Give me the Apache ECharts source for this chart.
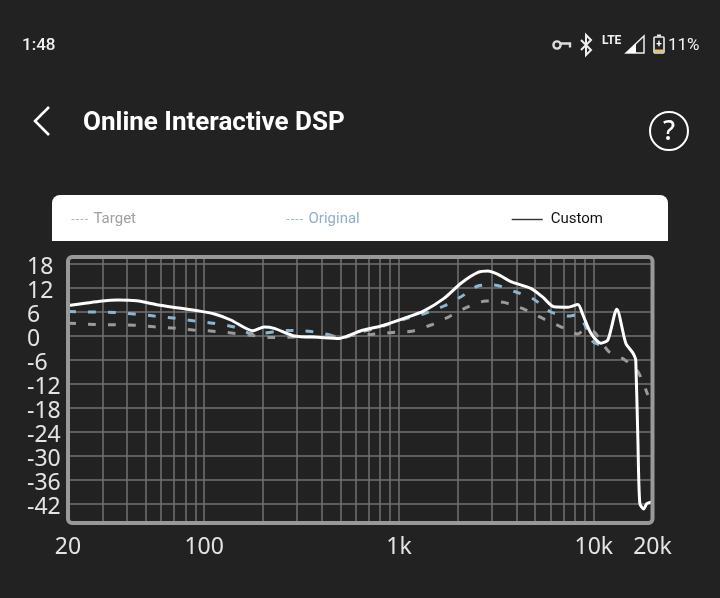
<!DOCTYPE html>
<html><head><meta charset="utf-8">
<style>html,body{margin:0;padding:0;background:#222}#c{width:720px;height:598px}</style>
<script src="https://cdn.jsdelivr.net/npm/echarts@6/dist/echarts.min.js"></script>
</head><body><div id="c"></div>
<script>
const customFreq=[20,30,36,45,58,74,93,113,137,178,203,229,290,384,492,638,809,1060,1343,1702,2080,2541,2860,3220,3750,4750,5470,6240,7360,8280,8790,9660,10860,11800,13120,14590,15850,16220,16410,16830,17220,18030,18700,20000];
const customDb=[7.6,8.75,9,8.8,7.75,7,6.3,5.5,4,1.3,2.25,1.9,0,-0.3,-0.6,1.3,2.5,4.4,6.3,9.4,13.2,15.9,16.25,15.4,13.6,11.9,9.7,7.3,7.2,7.9,5.25,0.7,-1.8,-1,6.7,-1.8,-4.2,-5.2,-6,-26,-41.9,-43.25,-41.9,-41.4];
const originalFreq=[20,27.3,34.5,43.8,55.4,69.3,87.9,111,141,178,273,354,438,505,638,809,1060,1374,1702,2080,2541,3070,3981,4920,6010,7450,8090,8890,9890,10860,11800];
const originalDb=[6.1,6,5.9,5.5,5,4.5,3.8,3.2,2.3,0.5,1.4,1.1,0.3,-0.5,1,2.3,4.2,5.7,7.5,9.8,12.5,12.75,11,9.2,6,5,5.25,3.2,-1.4,-2.25,-2.5];
const targetFreq=[20,27.3,34.5,43.8,55.4,69.3,87.9,111,141,178,226,314,505,718,931,1180,1459,1803,2259,2793,3454,4375,5470,6780,8280,8890,10000,11940,14250,16830,18920];
const targetDb=[3.2,2.9,2.8,2.7,2.3,2,1.5,1.2,0.7,0.1,-0.4,-0.2,0,0.4,0.9,1.25,2.75,4.8,7.3,8.75,8.4,6.7,4.4,2.3,0.5,1.5,1.1,-3.9,-5.8,-8.9,-14.75];
const gridFreqs=[30,40,50,60,70,80,90,100,200,300,400,500,600,700,800,900,1000,2000,3000,4000,5000,6000,7000,8000,9000,10000];
const xTickValues=[20,100,1000,10000,20000];
const xTickLabels=['20','100','1k','10k','20k'];
const yTickValues=[-42,-36,-30,-24,-18,-12,-6,0,6,12,18];
const seriesNames=['Target','Original','Custom'];
const zip=(a,b)=>a.map((v,i)=>[v,b[i]]);
const W='#fff';
const t=(x,y,text,font,fill,align)=>({type:'text',x,y,style:{text,font,fill:fill||W,align:align||'left',verticalAlign:'middle'}});
const chart=echarts.init(document.getElementById('c'),null,{renderer:'canvas'});
const hideDot={color:'transparent',opacity:0};
chart.setOption({
 animation:false,
 backgroundColor:'#222222',
 grid:{left:68,right:67.5,top:257,bottom:75,show:false},
 xAxis:{type:'log',logBase:10,min:20,max:20000,
  axisLine:{show:false},
  axisTick:{show:false,customValues:gridFreqs},
  minorTick:{show:false},
  splitLine:{show:true,lineStyle:{color:'#727272',width:1.5}},
  axisLabel:{customValues:xTickValues,margin:13,showMinLabel:true,showMaxLabel:true,hideOverlap:false,
   color:'#e4e4e4',fontFamily:'Noto Sans',fontSize:23,
   formatter:v=>xTickLabels[xTickValues.findIndex(k=>Math.abs(k-v)<1e-6*k)]||''}},
 yAxis:{type:'value',min:-46.75,max:19.75,
  axisLine:{show:false},
  axisTick:{show:false,customValues:yTickValues},
  splitLine:{show:true,lineStyle:{color:'#727272',width:1.5}},
  axisLabel:{customValues:yTickValues,margin:41,align:'left',verticalAlign:'top',lineHeight:7,showMinLabel:true,showMaxLabel:true,hideOverlap:false,
   color:'#e4e4e4',fontFamily:'Noto Sans',fontSize:23}},
 legend:[
  {left:71,top:212,padding:0,itemGap:150,itemWidth:17,itemHeight:14,
   textStyle:{fontFamily:'Roboto',fontSize:15},
   data:[
    {name:'Target',textStyle:{color:'#a0a0a0'},itemStyle:hideDot,lineStyle:{color:'#b5b5b5',width:1,type:[3,1.5]}},
    {name:'Original',textStyle:{color:'#8db0c6'},itemStyle:hideDot,lineStyle:{color:'#9dbccd',width:1,type:[3,1.5]}}]},
  {left:511,top:212,padding:0,itemWidth:31,itemHeight:14,itemGap:0,
   textStyle:{fontFamily:'Roboto',fontSize:15,color:'#111',padding:[0,0,0,3]},
   data:[{name:'Custom',textStyle:{color:'#111',padding:[0,0,0,3]},itemStyle:hideDot,lineStyle:{color:'#333',width:1.4,type:'solid'}}]}
 ],
 series:[
  {name:seriesNames[1],type:'line',data:zip(originalFreq,originalDb),smooth:0.25,showSymbol:false,symbol:'none',z:3,
   lineStyle:{color:'#8db5d0',width:3,type:[8,12]},itemStyle:{color:'#8db5d0'}},
  {name:seriesNames[0],type:'line',data:zip(targetFreq,targetDb),smooth:0.25,showSymbol:false,symbol:'none',z:4,
   lineStyle:{color:'#9a9a9a',width:3,type:[8,12]},itemStyle:{color:'#9a9a9a'}},
  {name:seriesNames[2],type:'line',data:zip(customFreq,customDb),smooth:0.25,showSymbol:false,symbol:'none',z:5,
   lineStyle:{color:'#ffffff',width:3,type:'solid'},itemStyle:{color:'#ffffff'}}
 ],
 graphic:[
  {type:'rect',z:-1,shape:{x:52,y:195,width:616,height:46,r:[8,8,0,0]},style:{fill:'#fff'}},
  {type:'rect',z:10,shape:{x:68,y:257,width:584.5,height:266,r:4},style:{fill:'none',stroke:'#999',lineWidth:4}},
  t(22,46,'1:48','500 17px Roboto','#f2f2f2'),
  t(668,46,'11%','400 17px Roboto','#f2f2f2'),
  t(602,41,'LTE','700 12px Roboto','#f2f2f2'),
  t(83,123,'Online Interactive DSP','700 26px Roboto'),
  t(669,132,'?','500 27px "Noto Sans"',W,'center'),
  {type:'circle',shape:{cx:669,cy:131,r:19},style:{fill:'none',stroke:W,lineWidth:2}},
  {type:'polyline',shape:{points:[[49,107],[35,121],[49,135]]},style:{fill:'none',stroke:W,lineWidth:2.6}},
  // key
  {type:'circle',shape:{cx:557,cy:45,r:3.6},style:{fill:'none',stroke:'#ddd',lineWidth:2.4}},
  {type:'polyline',shape:{points:[[561,43.5],[570,43.5],[570,47.5]]},style:{fill:'none',stroke:'#ddd',lineWidth:2.4}},
  // bluetooth
  {type:'polyline',shape:{points:[[581,40],[591,50],[586,55],[586,35],[591,40],[581,50]]},style:{fill:'none',stroke:'#eee',lineWidth:2}},
  // signal
  {type:'polygon',shape:{points:[[626,53],[644,36],[644,53]]},style:{fill:'none',stroke:'#eee',lineWidth:1.5}},
  {type:'polygon',shape:{points:[[626,53],[636,43.5],[636,53]]},style:{fill:'#fff'}},
  // battery
  {type:'rect',shape:{x:654,y:37,width:10,height:16,r:1},style:{fill:'none',stroke:'#eee',lineWidth:1.6}},
  {type:'rect',shape:{x:657,y:34.5,width:4,height:2},style:{fill:'#eee'}},
  {type:'rect',shape:{x:654.8,y:49.5,width:8.4,height:3},style:{fill:'#e9c46a'}},
  t(659,44,'+','700 10px Roboto','#fff','center')
 ]
});
</script></body></html>
